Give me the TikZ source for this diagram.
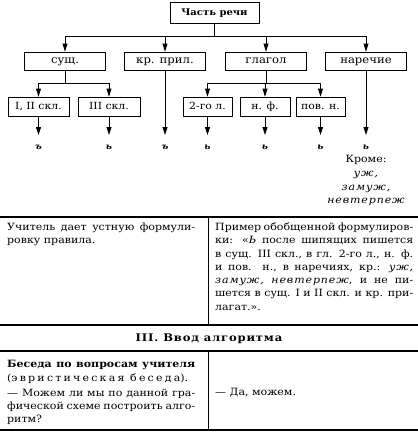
\documentclass[tikz,border=0pt]{standalone}
\usepackage{fontspec}
\setmainfont{DejaVu Serif}[FakeStretch=1.1]
\newfontfamily\spacedfont{DejaVu Serif}[FakeStretch=1.1,LetterSpace=22]
\newfontfamily\itsp{DejaVu Serif Italic}[FakeStretch=1.1,LetterSpace=9]
\newfontfamily\headfont{DejaVu Serif Bold}[FakeStretch=1.1,LetterSpace=8]
\usetikzlibrary{arrows.meta}
\newcommand\jl[2]{\makebox[#1][s]{#2}}
\begin{document}
\begin{tikzpicture}[x=1pt,y=-1pt,
  box/.style={draw,line width=0.8pt,minimum height=18pt,inner sep=0pt,text height=6.8pt,text depth=1.6pt,font=\fontsize{10.6}{12}\selectfont},
  lowbox/.style={box,minimum height=19pt,font=\fontsize{9.9}{11}\selectfont},
  arr/.style={line width=0.8pt,-{Triangle[length=8pt,width=5pt]}},
  tablerule/.style={line width=1.1pt},
  lett/.style={font=\fontsize{8.5}{9}\selectfont\bfseries\itshape,inner sep=0pt,text height=5pt,text depth=0pt,anchor=north},
  body/.style={font=\fontsize{10}{13.3}\selectfont,inner sep=0pt,anchor=north west,align=left}
]
\useasboundingbox (0,0) rectangle (418,432);
% level 1
\node[box,font=\fontsize{9.1}{10}\selectfont\bfseries,minimum width=89pt,minimum height=21pt] (top) at (214.5,12.5) {Часть речи};
% level 2
\node[box,minimum width=81pt] (sush) at (65,61) {сущ.};
\node[box,minimum width=81pt] (pril) at (165,61) {кр. прил.};
\node[box,minimum width=81pt] (glag) at (266,61) {глагол};
\node[box,minimum width=81pt] (narech) at (366,61) {наречие};
% level 3
\node[lowbox,minimum width=61pt] (skla) at (38.5,106.5) {I, II скл.};
\node[lowbox,minimum width=62pt] (sklb) at (109,106.5) {III скл.};
\node[lowbox,minimum width=49pt] (lico) at (207.5,106.5) {2-го л.};
\node[lowbox,minimum width=50pt] (nf) at (265,106.5) {н. ф.};
\node[lowbox,minimum width=49pt] (povn) at (320.5,106.5) {пов. н.};
% bus coordinates
\coordinate (busa) at (214.5,36);
\coordinate (busb) at (0,83);
% letters
\node[lett] (la) at (38.5,144) {ъ};
\node[lett] (lb) at (109,144) {ь};
\node[lett] (lc) at (165,144) {ъ};
\node[lett] (ld) at (207.5,144) {ь};
\node[lett] (le) at (265,144) {ь};
\node[lett] (lf) at (320.5,144) {ь};
\node[lett] (lg) at (366,144) {ь};
\node[font=\fontsize{10}{13.8}\selectfont,align=center,anchor=north,inner sep=0pt] (krome) at (366,155)
  {Кроме:\\ {\itsp уж,}\\ {\itsp замуж,}\\ {\itsp невтерпеж}};
% connectors level 1 -> 2
\draw[arr] (top.south) -- (top.south |- busa) -| (sush.north);
\draw[arr] (top.south) -- (top.south |- busa) -| (pril.north);
\draw[arr] (top.south) -- (top.south |- busa) -| (glag.north);
\draw[arr] (top.south) -- (top.south |- busa) -| (narech.north);
% level 2 -> 3
\draw[arr] (sush.south) -- (sush.south |- busb) -| (skla.north);
\draw[arr] (sush.south) -- (sush.south |- busb) -| (sklb.north);
\draw[arr] (glag.south) -- (glag.south |- busb) -| (lico.north);
\draw[arr] (glag.south) -- (glag.south |- busb) -| (nf.north);
\draw[arr] (glag.south) -- (glag.south |- busb) -| (povn.north);
% to letters
\draw[arr,shorten >=9pt] (skla.south) -- (la.north);
\draw[arr,shorten >=9pt] (sklb.south) -- (lb.north);
\draw[arr,shorten >=9pt] (pril.south) -- (lc.north);
\draw[arr,shorten >=9pt] (lico.south) -- (ld.north);
\draw[arr,shorten >=9pt] (nf.south) -- (le.north);
\draw[arr,shorten >=9pt] (povn.south) -- (lf.north);
\draw[arr,shorten >=9pt] (narech.south) -- (lg.north);
% table
\draw[tablerule] (0,217) -- (418,217);
\draw[tablerule] (0,325) -- (418,325);
\draw[tablerule] (0,351) -- (418,351);
\draw[tablerule] (0,430) -- (418,430);
\draw[line width=0.9pt] (208,217) -- (208,325);
\draw[line width=0.9pt] (208,351) -- (208,430);
\node[body] (tla) at (7,222.5)
  {\jl{188pt}{Учитель дает устную формули-}\\ ровку правила.};
\node[body] (tra) at (215,222.5)
  {\jl{198pt}{Пример обобщенной формулиров-}\\
   \jl{198pt}{ки: «\textit{Ь} после шипящих пишется}\\
   \jl{198pt}{в сущ. III скл., в гл. 2-го л., н. ф.}\\
   \jl{198pt}{и пов. н., в наречиях, кр.: {\itsp уж,}}\\
   \jl{198pt}{{\itsp замуж,} {\itsp невтерпеж}, и не пи-}\\
   \jl{198pt}{шется в сущ. I и II скл. и кр. при-}\\
   лагат.».};
\node[font=\fontsize{10.5}{11}\selectfont\headfont,anchor=base,inner sep=0pt] (sect) at (209,341) {III. Ввод алгоритма};
\node[body] (tlb) at (7,360.5)
  {\jl{188pt}{\bfseries Беседа по вопросам учителя}\\
   ({\spacedfont эвристическая беседа}).\\[1.7pt]
   \jl{188pt}{— Можем ли мы по данной гра-}\\
   \jl{188pt}{фической схеме построить алго-}\\
   ритм?};
\node[font=\fontsize{10}{11}\selectfont,anchor=base west,inner sep=0pt] (trb) at (215,395.6) {— Да, можем.};
\end{tikzpicture}
\end{document}
